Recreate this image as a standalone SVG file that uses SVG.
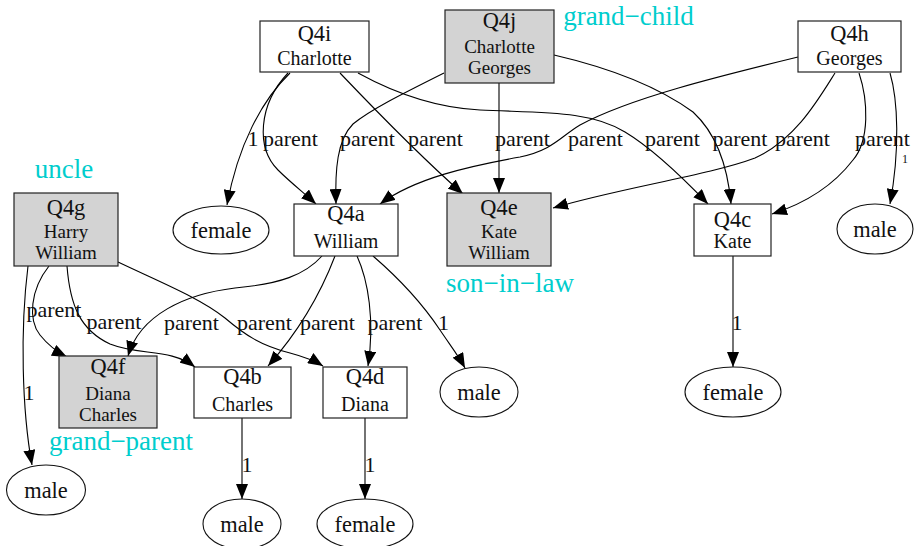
<svg xmlns="http://www.w3.org/2000/svg" width="914" height="546" viewBox="0 0 914 546">
  <style>
    .box { fill: #ffffff; stroke: #222; stroke-width: 1.2; }
    .grey { fill: #d3d3d3; }
    .ell { fill: #ffffff; stroke: #111; stroke-width: 1.1; }
    .title { font-family: "Liberation Serif", "Times New Roman", serif; font-size: 22.4px; fill: #111; text-anchor: middle; }
    .name { font-family: "Liberation Serif", "Times New Roman", serif; font-size: 20px; fill: #111; text-anchor: middle; }
    .name2 { font-family: "Liberation Serif", "Times New Roman", serif; font-size: 19px; fill: #111; text-anchor: middle; }
    .val { font-family: "Liberation Serif", "Times New Roman", serif; font-size: 22.4px; fill: #111; text-anchor: middle; }
    .lbl { font-family: "Liberation Serif", "Times New Roman", serif; font-size: 22px; fill: #111; text-anchor: middle; }
    .small { font-family: "Liberation Serif", "Times New Roman", serif; font-size: 12px; fill: #111; text-anchor: middle; }
    .role { font-family: "Liberation Serif", "Times New Roman", serif; font-size: 27px; fill: #00cdcd; text-anchor: middle; }
    .edge { fill: none; stroke: #000; stroke-width: 1.1; marker-end: url(#arrow); }
  </style>
  <defs>
    <marker id="arrow" markerUnits="userSpaceOnUse" markerWidth="15" markerHeight="12" viewBox="0 0 15 12" refX="15" refY="6" orient="auto">
      <path d="M0,0 L15,6 L0,12 z" fill="#000"/>
    </marker>
  </defs>

  <rect width="914" height="546" fill="#ffffff"/>

  <!-- connectors -->
  <g id="edges">
    <path class="edge" d="M290,73 C262,100 238,145 227,205"/>
    <path class="edge" d="M288,73 C258,105 256,148 278,170 C290,182 304,193 316,204"/>
    <path class="edge" d="M340,73 C380,115 430,165 463,194"/>
    <path class="edge" d="M358,73 C400,96 440,108 480,110 C540,113 590,110 625,132 C655,150 685,180 708,204"/>
    <path class="edge" d="M444,73 C400,95 370,110 353,124 C337,140 335,170 336,204"/>
    <path class="edge" d="M499,83 L499,193"/>
    <path class="edge" d="M554,55 C610,68 660,88 693,112 C718,135 728,170 731,204"/>
    <path class="edge" d="M798,57 C720,76 630,98 580,125 C560,137 553,150 520,157 C470,166 415,178 380,204"/>
    <path class="edge" d="M835,73 C818,100 795,140 755,158 C710,175 620,188 553,208"/>
    <path class="edge" d="M859,73 C868,100 870,140 853,160 C830,190 800,205 772,214"/>
    <path class="edge" d="M890,73 C898,100 900,150 890,204"/>
    <path class="edge" d="M28,266 C20,330 22,410 32,465"/>
    <path class="edge" d="M49,266 C30,290 28,320 40,335 C48,345 57,352 67,357"/>
    <path class="edge" d="M67,266 C70,305 80,330 110,344 C140,356 170,348 195,367"/>
    <path class="edge" d="M118,262 C160,282 200,298 225,318 C245,335 260,345 290,353 C305,357 315,361 323,366"/>
    <path class="edge" d="M322,256 C305,275 280,284 235,288 C185,294 140,315 128,356"/>
    <path class="edge" d="M335,256 C322,290 300,330 268,366"/>
    <path class="edge" d="M357,256 C368,280 375,320 368,366"/>
    <path class="edge" d="M373,256 C395,275 420,300 440,330 C450,345 458,355 465,368"/>
    <path class="edge" d="M733,256 L733,367"/>
    <path class="edge" d="M242,418 L242,499"/>
    <path class="edge" d="M365,418 L365,499"/>
  </g>

  <!-- edge labels -->
  <g id="edge-labels">
    <text class="lbl" x="253" y="146">1</text>
    <text class="lbl" x="290.5" y="146">parent</text>
    <text class="lbl" x="367.5" y="146">parent</text>
    <text class="lbl" x="435.5" y="146">parent</text>
    <text class="lbl" x="522.5" y="146">parent</text>
    <text class="lbl" x="595.5" y="146">parent</text>
    <text class="lbl" x="672.5" y="146">parent</text>
    <text class="lbl" x="740" y="146">parent</text>
    <text class="lbl" x="802.5" y="146">parent</text>
    <text class="lbl" x="882.5" y="146">parent</text>
    <text class="small" x="905" y="163">1</text>
    <text class="lbl" x="54" y="317">parent</text>
    <text class="lbl" x="114" y="329">parent</text>
    <text class="lbl" x="191.5" y="330">parent</text>
    <text class="lbl" x="264.5" y="330">parent</text>
    <text class="lbl" x="327.5" y="330">parent</text>
    <text class="lbl" x="395" y="330">parent</text>
    <text class="lbl" x="443.5" y="330">1</text>
    <text class="lbl" x="737" y="330">1</text>
    <text class="lbl" x="29" y="400">1</text>
    <text class="lbl" x="247" y="472">1</text>
    <text class="lbl" x="370" y="472">1</text>
  </g>

  <!-- role annotations -->
  <g id="roles">
    <text class="role" x="64" y="178">uncle</text>
    <text class="role" x="628.5" y="25">grand−child</text>
    <text class="role" x="510" y="292">son−in−law</text>
    <text class="role" x="121" y="450">grand−parent</text>
  </g>

  <!-- entity nodes -->
  <g id="Q4i">
    <rect class="box" x="260" y="21" width="109" height="51"/>
    <text class="title" x="314.5" y="41">Q4i</text>
    <text class="name" x="314.5" y="65">Charlotte</text>
  </g>
  <g id="Q4j">
    <rect class="box grey" x="445" y="10" width="109" height="73"/>
    <text class="title" x="499.5" y="28">Q4j</text>
    <text class="name2" x="499.5" y="52.8">Charlotte</text>
    <text class="name2" x="499.5" y="74">Georges</text>
  </g>
  <g id="Q4h">
    <rect class="box" x="798" y="21" width="103" height="51"/>
    <text class="title" x="849.5" y="41">Q4h</text>
    <text class="name" x="849.5" y="65">Georges</text>
  </g>
  <g id="Q4g">
    <rect class="box grey" x="14" y="193" width="104" height="73"/>
    <text class="title" x="66" y="215">Q4g</text>
    <text class="name2" x="66" y="238">Harry</text>
    <text class="name2" x="66" y="259.2">William</text>
  </g>
  <g id="Q4a">
    <rect class="box" x="294" y="204" width="104" height="52"/>
    <text class="title" x="346" y="221">Q4a</text>
    <text class="name" x="346" y="248">William</text>
  </g>
  <g id="Q4e">
    <rect class="box grey" x="447" y="193" width="104" height="73"/>
    <text class="title" x="499" y="215">Q4e</text>
    <text class="name2" x="499" y="238">Kate</text>
    <text class="name2" x="499" y="259.2">William</text>
  </g>
  <g id="Q4c">
    <rect class="box" x="694" y="204" width="77" height="52"/>
    <text class="title" x="732.5" y="227">Q4c</text>
    <text class="name" x="732.5" y="248">Kate</text>
  </g>
  <g id="Q4f">
    <rect class="box grey" x="59" y="356" width="98" height="72"/>
    <text class="title" x="108" y="374">Q4f</text>
    <text class="name2" x="108" y="399.5">Diana</text>
    <text class="name2" x="108" y="420.7">Charles</text>
  </g>
  <g id="Q4b">
    <rect class="box" x="194" y="367" width="97" height="51"/>
    <text class="title" x="242.5" y="384">Q4b</text>
    <text class="name" x="242.5" y="411">Charles</text>
  </g>
  <g id="Q4d">
    <rect class="box" x="323" y="367" width="84" height="51"/>
    <text class="title" x="365" y="384">Q4d</text>
    <text class="name" x="365" y="411">Diana</text>
  </g>

  <!-- value nodes -->
  <g id="female-1">
    <ellipse class="ell" cx="221" cy="230" rx="48" ry="24"/>
    <text class="val" x="221" y="238">female</text>
  </g>
  <g id="male-1">
    <ellipse class="ell" cx="875" cy="229" rx="38" ry="25"/>
    <text class="val" x="875" y="237">male</text>
  </g>
  <g id="male-2">
    <ellipse class="ell" cx="479" cy="392" rx="39" ry="25"/>
    <text class="val" x="479" y="400">male</text>
  </g>
  <g id="female-2">
    <ellipse class="ell" cx="733" cy="392" rx="48" ry="25"/>
    <text class="val" x="733" y="400">female</text>
  </g>
  <g id="male-3">
    <ellipse class="ell" cx="46" cy="490" rx="39.5" ry="25"/>
    <text class="val" x="46" y="498">male</text>
  </g>
  <g id="male-4">
    <ellipse class="ell" cx="242" cy="524" rx="39" ry="25"/>
    <text class="val" x="242" y="532">male</text>
  </g>
  <g id="female-3">
    <ellipse class="ell" cx="365" cy="524" rx="48" ry="25"/>
    <text class="val" x="365" y="532">female</text>
  </g>
</svg>
